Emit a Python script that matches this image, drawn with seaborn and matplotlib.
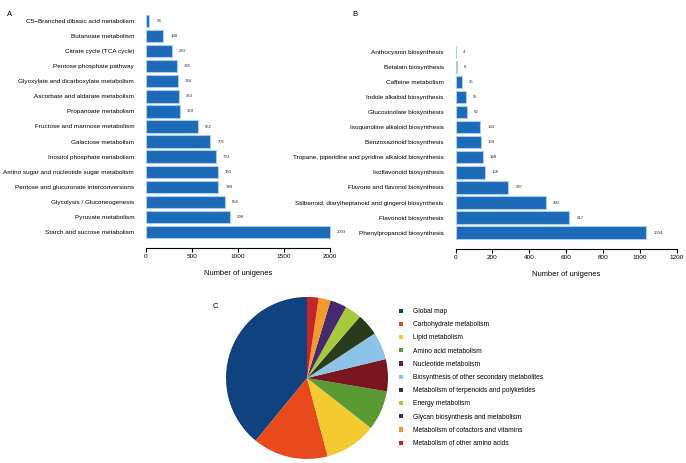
import matplotlib
matplotlib.use('Agg')
import matplotlib.pyplot as plt
import seaborn as sns
import pandas as pd

# Panel A: carbohydrate metabolism pathways
pathways_a = ['C5\u2212Branched dibasic acid metabolism', 'Butanoate metabolism',
              'Citrate cycle (TCA cycle)', 'Pentose phosphate pathway',
              'Glyoxylate and dicarboxylate metabolism', 'Ascorbate and aldarate metabolism',
              'Propanoate metabolism', 'Fructose and mannose metabolism',
              'Galactose metabolism', 'Inositol phosphate metabolism',
              'Amino sugar and nucleotide sugar metabolism',
              'Pentose and glucuronate interconversions', 'Glycolysis / Gluconeogenesis',
              'Pyruvate metabolism', 'Starch and sucrose metabolism']
counts_a = [38, 188, 283, 335, 344, 363, 369, 562, 701, 763, 783, 788, 856, 908, 2003]

# Panel B: secondary metabolite biosynthesis
pathways_b = ['Anthocyanin biosynthesis', 'Betalain biosynthesis', 'Caffeine metabolism',
              'Indole alkaloid biosynthesis', 'Glucosinolate biosynthesis',
              'Isoquinoline alkaloid biosynthesis', 'Benzoxazinoid biosynthesis',
              'Tropane, piperidine and pyridine alkaloid biosynthesis',
              'Isoflavonoid biosynthesis', 'Flavone and flavonol biosynthesis',
              'Stilbenoid, diarylheptanoid and gingerol biosynthesis',
              'Flavonoid biosynthesis', 'Phenylpropanoid biosynthesis']
counts_b = [4, 8, 35, 55, 62, 134, 139, 148, 158, 287, 492, 617, 1034]

# Panel C: KEGG categories (share, %)
categories_c = ['Global map', 'Carbohydrate metabolism', 'Lipid metabolism',
                'Amino acid metabolism', 'Nucleotide metabolism',
                'Biosynthesis of other secondary metabolites',
                'Metabolism of terpenoids and polyketides', 'Energy metabolism',
                'Glycan biosynthesis and metabolism', 'Metabolism of cofactors and vitamins',
                'Metabolism of other amino acids']
share_c = [39.0, 15.0, 10.3, 7.9, 6.4, 5.5, 4.4, 3.3, 3.3, 2.4, 2.3]
colors_c = ['#0f427e', '#e8491d', '#f3cb30', '#5a9a32', '#7a1620', '#8ec3e8',
            '#2a3b1c', '#a8c93a', '#46296e', '#f39a2a', '#c4242a']

plt.rcParams['font.family'] = ['Liberation Sans', 'DejaVu Sans']

W, H = 686, 463
fig = plt.figure(figsize=(W / 100, H / 100), dpi=100)

bar_color = '#1c6ab8'
edge_color = '#a9cdee'


def bar_panel(rect, names, vals, xmax, ticks):
    ax = fig.add_axes(rect)
    df = pd.DataFrame({'pathway': names, 'count': vals})
    sns.barplot(data=df, y='pathway', x='count', color=bar_color, edgecolor=edge_color,
                linewidth=0.8, saturation=1, width=0.82, ax=ax)
    ax.bar_label(ax.containers[0], padding=5, fontsize=3.1, color='#333333')
    ax.set_xlim(0, xmax)
    ax.set_xticks(ticks)
    ax.set_ylabel('')
    ax.set_xlabel('Number of unigenes', fontsize=5.4, labelpad=8)
    for s in ['top', 'right', 'left']:
        ax.spines[s].set_visible(False)
    ax.spines['bottom'].set_position(('outward', 6))
    ax.spines['bottom'].set_linewidth(0.8)
    ax.tick_params(axis='y', left=False, pad=5, labelsize=4.55)
    ax.tick_params(axis='x', direction='out', length=3, width=0.8, labelsize=4.6, pad=1.5)
    for b in ax.patches:
        b.set_clip_on(False)
    return ax


bar_panel([146 / W, 1 - 239.5 / H, 184 / W, 226 / H], pathways_a, counts_a, 2000,
          [0, 500, 1000, 1500, 2000])
bar_panel([455.5 / W, 1 - 240.2 / H, 221.5 / W, 196 / H], pathways_b, counts_b, 1200,
          [0, 200, 400, 600, 800, 1000, 1200])

# Pie
axp = fig.add_axes([(307 - 81) / W, (H - 378 - 81) / H, 162 / W, 162 / H])
wedges, _ = axp.pie(share_c, colors=colors_c, startangle=90, counterclock=True,
                    wedgeprops={'linewidth': 0})
axp.set_xlim(-1, 1)
axp.set_ylim(-1, 1)
axp.set_aspect('equal')

fig.legend(wedges, categories_c, loc='upper left', bbox_to_anchor=(399 / W, 1 - 308 / H),
           frameon=False, fontsize=4.8, handlelength=0.6, handleheight=0.6,
           handletextpad=1.5, labelspacing=0.93, borderaxespad=0, borderpad=0)

fig.text(7 / W, 1 - 15 / H, 'A', fontsize=5.5, va='center')
fig.text(352 / W, 1 - 14 / H, 'B', fontsize=5.5, va='center')
fig.text(213 / W, 1 - 307 / H, 'C', fontsize=5.5, va='center')

fig.savefig('out.png', dpi=100)
